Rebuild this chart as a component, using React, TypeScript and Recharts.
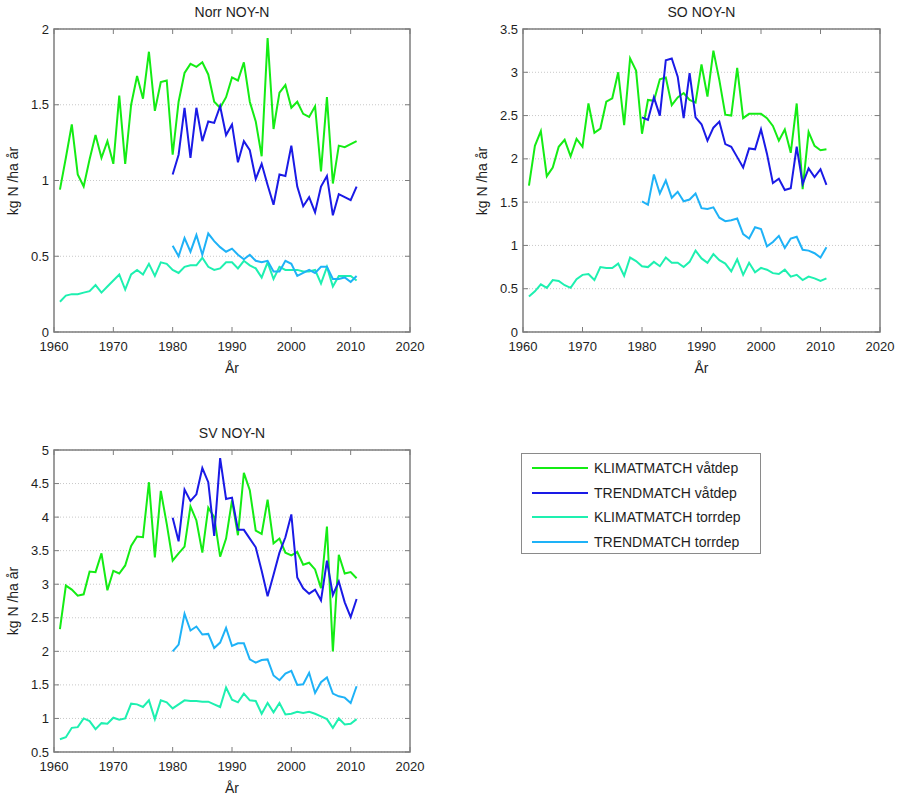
import React from "react";
import { LineChart, Line, XAxis, YAxis, CartesianGrid } from "recharts";

const years = [
  1961, 1962, 1963, 1964, 1965, 1966, 1967, 1968, 1969, 1970,
  1971, 1972, 1973, 1974, 1975, 1976, 1977, 1978, 1979, 1980,
  1981, 1982, 1983, 1984, 1985, 1986, 1987, 1988, 1989, 1990,
  1991, 1992, 1993, 1994, 1995, 1996, 1997, 1998, 1999, 2000,
  2001, 2002, 2003, 2004, 2005, 2006, 2007, 2008, 2009, 2010, 2011,
];
const xTicks = [1960, 1970, 1980, 1990, 2000, 2010, 2020];

// Norr
const norrKlimatVat = [
  0.94, 1.15, 1.37, 1.04, 0.96, 1.14, 1.3, 1.15, 1.26, 1.11,
  1.56, 1.11, 1.5, 1.69, 1.54, 1.85, 1.46, 1.65, 1.66, 1.17,
  1.52, 1.71, 1.77, 1.75, 1.78, 1.7, 1.52, 1.48, 1.55, 1.68,
  1.66, 1.78, 1.52, 1.39, 1.16, 1.94, 1.34, 1.58, 1.63, 1.48,
  1.52, 1.44, 1.42, 1.49, 1.06, 1.55, 0.98, 1.23, 1.22, 1.24, 1.26,
];
const norrTrendVat = [
  1.04, 1.17, 1.48, 1.15, 1.48, 1.26, 1.39, 1.38, 1.49, 1.3,
  1.37, 1.12, 1.26, 1.2, 1.01, 1.11, 0.97, 0.84, 1.04, 1.03,
  1.23, 0.96, 0.83, 0.89, 0.79, 0.96, 1.03, 0.77, 0.91, 0.89,
  0.87, 0.96,
];
const norrKlimatTorr = [
  0.2, 0.24, 0.25, 0.25, 0.26, 0.27, 0.31, 0.26, 0.3, 0.34,
  0.38, 0.28, 0.38, 0.41, 0.38, 0.45, 0.37, 0.46, 0.45, 0.41,
  0.39, 0.43, 0.44, 0.44, 0.49, 0.43, 0.41, 0.42, 0.46, 0.46,
  0.42, 0.47, 0.44, 0.42, 0.36, 0.46, 0.35, 0.43, 0.41, 0.41,
  0.41, 0.4, 0.4, 0.41, 0.32, 0.43, 0.3, 0.37, 0.37, 0.37, 0.34,
];
const norrTrendTorr = [
  0.57, 0.5, 0.62, 0.53, 0.64, 0.51, 0.65, 0.6, 0.56, 0.53,
  0.55, 0.51, 0.48, 0.51, 0.47, 0.46, 0.47, 0.4, 0.4, 0.47,
  0.45, 0.37, 0.39, 0.41, 0.39, 0.43, 0.43, 0.35, 0.35, 0.36,
  0.33, 0.37,
];

// SO
const soKlimatVat = [
  1.69, 2.15, 2.32, 1.8, 1.9, 2.14, 2.22, 2.03, 2.23, 2.14,
  2.64, 2.3, 2.35, 2.66, 2.7, 3.0, 2.39, 3.16, 3.02, 2.29,
  2.68, 2.67, 2.92, 2.94, 2.62, 2.71, 2.76, 2.68, 2.65, 3.09,
  2.72, 3.25, 2.91, 2.51, 2.5, 3.05, 2.47, 2.52, 2.52, 2.52,
  2.47, 2.38, 2.21, 2.34, 2.07, 2.64, 1.65, 2.31, 2.15, 2.1, 2.11,
];
const soTrendVat = [
  2.48, 2.45, 2.71, 2.5, 3.14, 3.16, 2.95, 2.47, 2.99, 2.48,
  2.4, 2.21, 2.36, 2.43, 2.17, 2.14, 2.02, 1.9, 2.12, 2.11,
  2.34, 2.06, 1.72, 1.77, 1.64, 1.66, 2.14, 1.71, 1.89, 1.79,
  1.88, 1.7,
];
const soKlimatTorr = [
  0.41, 0.47, 0.55, 0.51, 0.6, 0.59, 0.54, 0.51, 0.61, 0.66,
  0.67, 0.6, 0.75, 0.74, 0.74, 0.79, 0.65, 0.86, 0.82, 0.76,
  0.75, 0.81, 0.76, 0.86, 0.8, 0.8, 0.75, 0.81, 0.94, 0.85,
  0.8, 0.9, 0.83, 0.79, 0.7, 0.84, 0.66, 0.8, 0.69, 0.74,
  0.72, 0.68, 0.67, 0.72, 0.64, 0.66, 0.6, 0.64, 0.62, 0.59, 0.62,
];
const soTrendTorr = [
  1.51, 1.47, 1.82, 1.6, 1.75, 1.55, 1.62, 1.51, 1.53, 1.6,
  1.43, 1.42, 1.44, 1.32, 1.28, 1.29, 1.31, 1.13, 1.08, 1.21,
  1.19, 0.99, 1.04, 1.11, 0.97, 1.08, 1.1, 0.95, 0.94, 0.91,
  0.86, 0.98,
];

// SV
const svKlimatVat = [
  2.33, 2.98, 2.92, 2.83, 2.85, 3.19, 3.18, 3.46, 2.91, 3.2,
  3.16, 3.28, 3.57, 3.71, 3.7, 4.52, 3.4, 4.39, 3.9, 3.35,
  3.46, 3.56, 4.16, 3.95, 3.47, 4.14, 4.0, 3.41, 3.68, 4.25,
  3.73, 4.66, 4.4, 3.8, 3.75, 4.26, 3.61, 3.68, 3.47, 3.43,
  3.48, 3.29, 3.32, 3.22, 2.94, 3.86, 2.0, 3.44, 3.16, 3.18, 3.09,
];
const svTrendVat = [
  3.99, 3.64, 4.41, 4.24, 4.34, 4.73, 4.52, 3.72, 4.88, 4.27,
  4.29, 3.81, 3.81, 3.68, 3.55, 3.2, 2.82, 3.14, 3.47, 3.7,
  4.04, 3.1, 2.94, 2.86, 2.92, 2.76, 3.35, 2.84, 3.04, 2.73,
  2.51, 2.78,
];
const svKlimatTorr = [
  0.69, 0.72, 0.86, 0.87, 1.0, 0.96, 0.84, 0.93, 0.92, 1.01,
  0.98, 1.0, 1.22, 1.21, 1.17, 1.27, 0.99, 1.27, 1.24, 1.15,
  1.21, 1.27, 1.26, 1.26, 1.25, 1.25, 1.21, 1.17, 1.46, 1.28,
  1.24, 1.37, 1.27, 1.26, 1.07, 1.23, 1.09, 1.23, 1.06, 1.07,
  1.1, 1.08, 1.1, 1.07, 1.03, 0.99, 0.86, 1.0, 0.91, 0.92, 0.99,
];
const svTrendTorr = [
  2.0, 2.1, 2.56, 2.31, 2.37, 2.25, 2.26, 2.05, 2.13, 2.35,
  2.08, 2.12, 2.12, 1.88, 1.83, 1.87, 1.88, 1.64, 1.57, 1.67,
  1.71, 1.5, 1.51, 1.68, 1.38, 1.54, 1.61, 1.37, 1.33, 1.31,
  1.23, 1.48,
];

const trendStart = 1980;

const series = [
  { key: "kv", name: "KLIMATMATCH våtdep", color: "#14ec14" },
  { key: "tv", name: "TRENDMATCH våtdep", color: "#1a1ae6" },
  { key: "kt", name: "KLIMATMATCH torrdep", color: "#1ef0b0" },
  { key: "tt", name: "TRENDMATCH torrdep", color: "#1eb2f7" },
];

function buildRows(kv: number[], tv: number[], kt: number[], tt: number[]) {
  const off = years.indexOf(trendStart);
  return years.map((year, i) => ({
    year,
    kv: kv[i],
    tv: i >= off ? tv[i - off] : null,
    kt: kt[i],
    tt: i >= off ? tt[i - off] : null,
  }));
}

const font = "'Liberation Sans', Arial, Helvetica, sans-serif";
const axisColor = "#7d7d7d";
const textColor = "#1e1e1e";

type PanelProps = {
  title: string;
  plotLeft: number;
  plotTop: number;
  plotW: number;
  plotH: number;
  yDomain: [number, number];
  yTicks: number[];
  data: any[];
};

function Panel({ title, plotLeft, plotTop, plotW, plotH, yDomain, yTicks, data }: PanelProps) {
  const W = 54 + plotW + 20;
  const H = 29 + plotH + 60;
  const top = 29;
  const bottom = 29 + plotH;
  const left = 54;
  const right = 54 + plotW;

  // tick label plus inward tick marks on both opposite sides (MATLAB style box)
  const xTick = (p: any) => (
    <g>
      <line x1={p.x} x2={p.x} y1={bottom} y2={bottom - 5} stroke={axisColor} />
      <line x1={p.x} x2={p.x} y1={top} y2={top + 5} stroke={axisColor} />
      <text x={p.x} y={bottom + 14} textAnchor="middle" dominantBaseline="central"
        fontSize={13} fill={textColor} fontFamily={font}>
        {p.payload.value}
      </text>
    </g>
  );
  const yTick = (p: any) => (
    <g>
      <line x1={left} x2={left + 5} y1={p.y} y2={p.y} stroke={axisColor} />
      <line x1={right} x2={right - 5} y1={p.y} y2={p.y} stroke={axisColor} />
      <text x={left - 5} y={p.y} textAnchor="end" dominantBaseline="central"
        fontSize={13} fill={textColor} fontFamily={font}>
        {p.payload.value}
      </text>
    </g>
  );

  return (
    <div style={{ position: "absolute", left: plotLeft - 54, top: plotTop - 29, width: W, height: H }}>
      <LineChart width={W} height={H} data={data} margin={{ top: 29, right: 20, bottom: 30, left: 14 }}>
        <CartesianGrid vertical={false} stroke="#c8c8c8" strokeDasharray="1 2" />
        <XAxis
          dataKey="year"
          type="number"
          domain={[1960, 2020]}
          ticks={xTicks}
          interval={0}
          height={30}
          tick={xTick}
          tickLine={false}
          axisLine={false}
        />
        <YAxis
          domain={yDomain}
          ticks={yTicks}
          interval={0}
          width={40}
          tick={yTick}
          tickLine={false}
          axisLine={false}
        />
        {series.map((s) => (
          <Line
            key={s.key}
            type="linear"
            dataKey={s.key}
            name={s.name}
            stroke={s.color}
            strokeWidth={2}
            dot={false}
            isAnimationActive={false}
          />
        ))}
      </LineChart>
      <svg width={W} height={H} style={{ position: "absolute", left: 0, top: 0, pointerEvents: "none" }}>
        <rect x={left} y={top} width={plotW} height={plotH} fill="none" stroke={axisColor} strokeWidth={1.5} />
      </svg>
      <div
        style={{
          position: "absolute", left: 54, width: plotW, top: 3, textAlign: "center",
          fontSize: 14, color: textColor, fontFamily: font, lineHeight: "18px",
        }}
      >
        {title}
      </div>
      <div
        style={{
          position: "absolute", left: 54, width: plotW, top: 29 + plotH + 27, textAlign: "center",
          fontSize: 14, color: textColor, fontFamily: font, lineHeight: "18px",
        }}
      >
        År
      </div>
      <div
        style={{
          position: "absolute", left: 13 - 60, top: 29 + plotH / 2 - 9, width: 120, textAlign: "center",
          fontSize: 14, color: textColor, fontFamily: font, lineHeight: "18px",
          transform: "rotate(-90deg)",
        }}
      >
        kg N /ha år
      </div>
    </div>
  );
}

function LegendBox() {
  return (
    <div
      style={{
        position: "absolute", left: 521, top: 453, width: 238, height: 99,
        border: "1px solid #8a8a8a", background: "#fff", fontFamily: font,
      }}
    >
      {series.map((s, i) => (
        <div key={s.key} style={{ position: "absolute", left: 0, top: 4 + i * 24.5, height: 20, width: 238 }}>
          <svg width={70} height={20} style={{ position: "absolute", left: 0, top: 0 }}>
            <line x1={10} x2={66} y1={10} y2={10} stroke={s.color} strokeWidth={2} />
          </svg>
          <span style={{ position: "absolute", left: 72, top: 1, fontSize: 14, color: textColor, whiteSpace: "nowrap", lineHeight: "18px" }}>
            {s.name}
          </span>
        </div>
      ))}
    </div>
  );
}

export default function App() {
  const norr = buildRows(norrKlimatVat, norrTrendVat, norrKlimatTorr, norrTrendTorr);
  const so = buildRows(soKlimatVat, soTrendVat, soKlimatTorr, soTrendTorr);
  const sv = buildRows(svKlimatVat, svTrendVat, svKlimatTorr, svTrendTorr);
  return (
    <div style={{ position: "absolute", left: 0, top: 0, width: 904, height: 801, background: "#fff" }}>
      <Panel title="Norr NOY-N" plotLeft={54} plotTop={29} plotW={356} plotH={303}
        yDomain={[0, 2]} yTicks={[0, 0.5, 1, 1.5, 2]} data={norr} />
      <Panel title="SO NOY-N" plotLeft={523} plotTop={29} plotW={357} plotH={303}
        yDomain={[0, 3.5]} yTicks={[0, 0.5, 1, 1.5, 2, 2.5, 3, 3.5]} data={so} />
      <Panel title="SV NOY-N" plotLeft={54} plotTop={450} plotW={356} plotH={302}
        yDomain={[0.5, 5]} yTicks={[0.5, 1, 1.5, 2, 2.5, 3, 3.5, 4, 4.5, 5]} data={sv} />
      <LegendBox />
    </div>
  );
}
